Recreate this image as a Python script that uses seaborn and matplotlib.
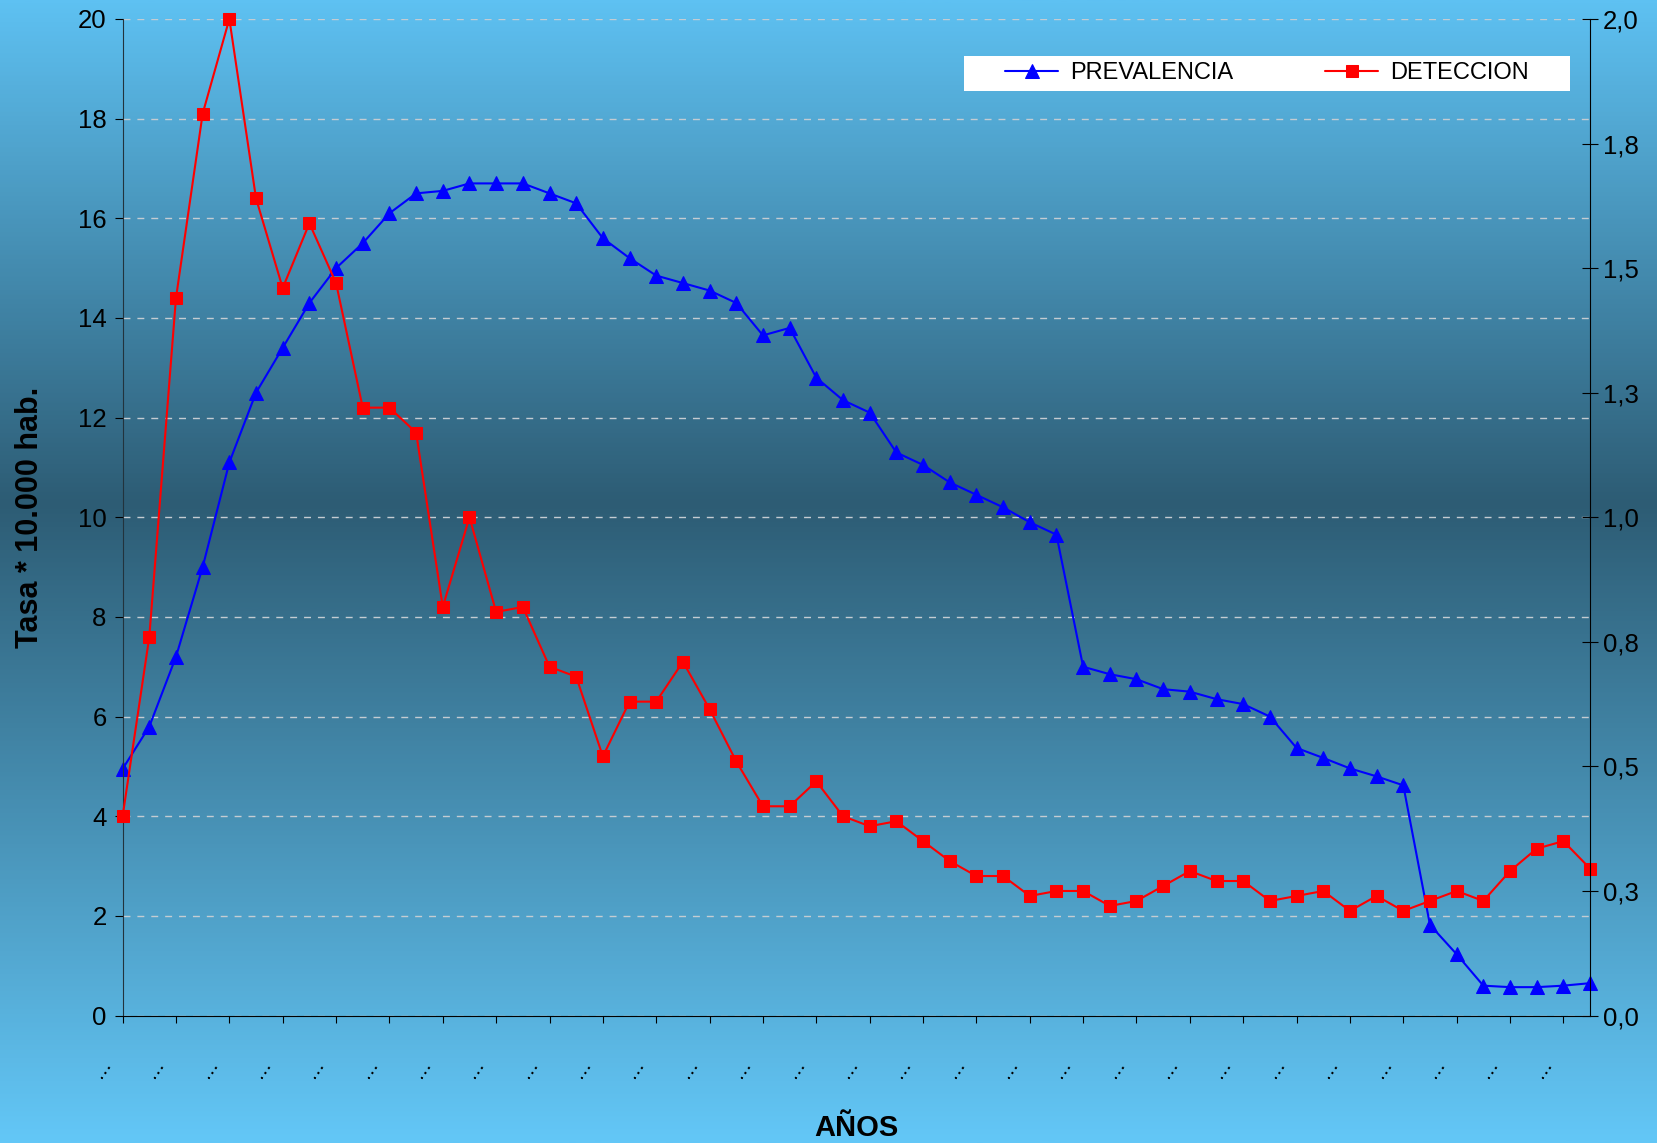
import matplotlib
matplotlib.use("Agg")
import matplotlib.pyplot as plt
import matplotlib.transforms as mtransforms
from matplotlib.colors import LinearSegmentedColormap
from matplotlib.patches import Rectangle
import numpy as np
import pandas as pd
import seaborn as sns

# tasa de prevalencia (eje izquierdo) y de deteccion (eje derecho), una por año
PREVALENCIA = [4.95, 5.8, 7.2, 9.0, 11.1, 12.5, 13.4, 14.3, 15.0, 15.5,
               16.1, 16.5, 16.55, 16.7, 16.7, 16.7, 16.5, 16.3, 15.6, 15.2,
               14.85, 14.7, 14.55, 14.3, 13.65, 13.8, 12.8, 12.35, 12.1, 11.3,
               11.05, 10.7, 10.45, 10.2, 9.9, 9.65, 7.0, 6.85, 6.75, 6.55,
               6.5, 6.35, 6.25, 6.0, 5.37, 5.17, 4.96, 4.8, 4.62, 1.82,
               1.23, 0.6, 0.57, 0.57, 0.6, 0.65]
DETECCION = [0.40, 0.76, 1.44, 1.81, 2.00, 1.64, 1.46, 1.59, 1.47, 1.22,
             1.22, 1.17, 0.82, 1.00, 0.81, 0.82, 0.70, 0.68, 0.52, 0.63,
             0.63, 0.71, 0.615, 0.51, 0.42, 0.42, 0.47, 0.40, 0.38, 0.39,
             0.35, 0.31, 0.28, 0.28, 0.24, 0.25, 0.25, 0.22, 0.23, 0.26,
             0.29, 0.27, 0.27, 0.23, 0.24, 0.25, 0.21, 0.24, 0.21, 0.23,
             0.25, 0.23, 0.29, 0.335, 0.35, 0.295]
ANIO_IDX = list(range(len(PREVALENCIA)))
ANIO_LABELS = ["..."] * 28
LEFT_TICKS = list(range(0, 21, 2))
RIGHT_TICKS = [0, 0.25, 0.5, 0.75, 1.0, 1.25, 1.5, 1.75, 2.0]
RIGHT_LABELS = ["0,0", "0,3", "0,5", "0,8", "1,0", "1,3", "1,5", "1,8", "2,0"]

df = pd.DataFrame({"anio": ANIO_IDX, "prev": PREVALENCIA, "det": DETECCION})

sns.set_style("ticks")
plt.rcParams["font.family"] = ["Liberation Sans", "DejaVu Sans"]
plt.rcParams["text.color"] = "black"
plt.rcParams["axes.labelcolor"] = "black"
plt.rcParams["xtick.color"] = "black"
plt.rcParams["ytick.color"] = "black"

fig = plt.figure(figsize=(16.57, 11.43), dpi=100)

# fondo degradado
bg = fig.add_axes([0, 0, 1, 1], zorder=-10)
cmap = LinearSegmentedColormap.from_list(
    "fondo", [(0, "#5EC1F2"), (0.44, "#2D5C74"), (1, "#63C7F7")])
bg.imshow(np.linspace(0, 1, 512).reshape(-1, 1), aspect="auto", cmap=cmap,
          extent=[0, 1, 0, 1])
bg.set_axis_off()

ax = fig.add_axes([0.074, 0.1115, 0.8856, 0.8719])
ax.patch.set_visible(False)
sns.lineplot(data=df, x="anio", y="prev", ax=ax, color="#0000FF", marker="^",
             markersize=10, markeredgecolor="#0000FF", linewidth=1.5,
             label="PREVALENCIA", clip_on=False)
ax2 = ax.twinx()
sns.lineplot(data=df, x="anio", y="det", ax=ax2, color="#FF0000", marker="s",
             markersize=8.5, markeredgecolor="#FF0000", linewidth=1.5,
             label="DETECCION", clip_on=False)

h1, l1 = ax.get_legend_handles_labels()
h2, l2 = ax2.get_legend_handles_labels()
ax.get_legend().remove()
ax2.get_legend().remove()

ax.set_xlim(0, 55)
ax.set_ylim(0, 20)
ax2.set_ylim(0, 2)

ax.set_yticks(LEFT_TICKS)
ax2.set_yticks(RIGHT_TICKS)
ax2.set_yticklabels(RIGHT_LABELS)
ax.set_xticks(range(0, 56, 2))
ax.set_xticklabels(ANIO_LABELS, rotation=55, ha="center", va="center")

ax.tick_params(axis="x", direction="out", length=5, pad=33, labelsize=16)
ax.tick_params(axis="y", direction="out", length=5.5, pad=6, labelsize=18.5)
ax2.tick_params(axis="y", direction="inout", length=12, pad=3, labelsize=18.5)
off = mtransforms.ScaledTranslation(-0.21, 0, fig.dpi_scale_trans)
for lab in ax.get_xticklabels():
    lab.set_transform(lab.get_transform() + off)

ax.yaxis.grid(True, linestyle=(0, (5, 5)), color="#C4CCD2", linewidth=1)
ax.xaxis.grid(False)
ax2.grid(False)

for a in (ax, ax2):
    a.spines["top"].set_visible(False)
ax.spines["right"].set_visible(False)
ax2.spines["left"].set_visible(False)
ax2.spines["bottom"].set_visible(False)
ax.spines["left"].set_color("#22333D")
ax.spines["bottom"].set_color("black")
ax2.spines["right"].set_color("black")

ax.set_ylabel("Tasa * 10.000 hab.", fontsize=22, fontweight="bold", va="center")
ax.yaxis.set_label_coords(-0.0631, 0.5)
ax2.set_ylabel("")
ax.set_xlabel("AÑOS", fontsize=21, fontweight="bold", va="center")
ax.xaxis.set_label_coords(0.5, -0.1128)

# leyenda en caja blanca
ax2.add_patch(Rectangle((0.5734, 0.9278), 0.413, 0.0351, transform=ax2.transAxes,
                        facecolor="white", edgecolor="none", zorder=4))
leg = ax2.legend(h1 + h2, l1 + l2, loc="center",
                 bbox_to_anchor=(0.5734 + 0.413 / 2, 0.9278 + 0.0351 / 2),
                 ncol=2, frameon=False, fontsize=17, handlelength=2.25,
                 handletextpad=0.5, columnspacing=3.9)
leg.set_zorder(6)

fig.savefig("out.png", dpi=100)
